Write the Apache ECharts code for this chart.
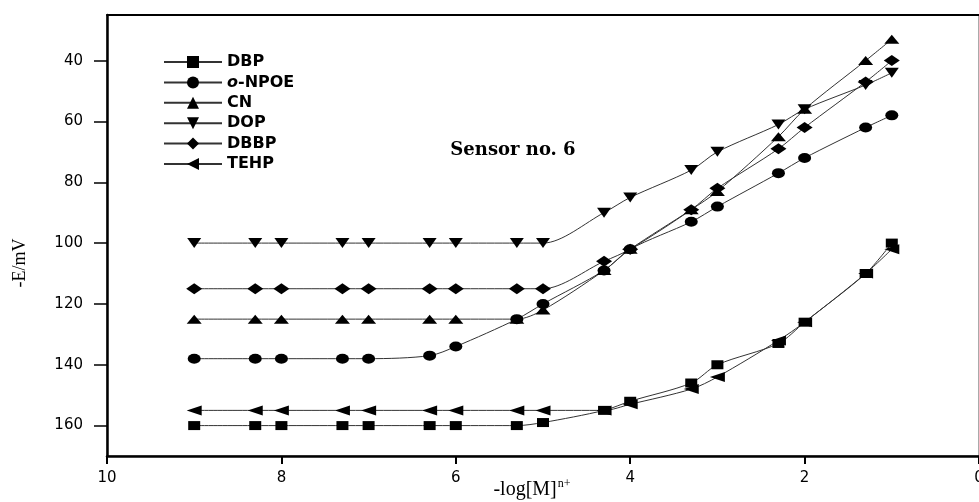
<!DOCTYPE html>
<html>
<head>
<meta charset="utf-8">
<script src="https://cdn.jsdelivr.net/npm/echarts@6/dist/echarts.min.js"></script>
<style>
    html, body { margin: 0; padding: 0; background: #fff; }
    #chart { width: 979px; height: 502px; }
</style>
</head>
<body>
<div id="chart"></div>
<script>
// -log[M]n+ 值（所有曲线共用）
var xVals = [9, 8.3, 8, 7.3, 7, 6.3, 6, 5.3, 5, 4.3, 4, 3.3, 3, 2.3, 2, 1.3, 1];

// 各增塑剂的 -E/mV
var dbp  = [160, 160, 160, 160, 160, 160, 160, 160, 159, 155, 152, 146, 140, 133, 126, 110, 100];
var npoe = [138, 138, 138, 138, 138, 137, 134, 125, 120, 109, 102, 93, 88, 77, 72, 62, 58];
var cn   = [125, 125, 125, 125, 125, 125, 125, 125, 122, 109, 102, 89, 83, 65, 56, 40, 33];
var dop  = [100, 100, 100, 100, 100, 100, 100, 100, 100, 90, 85, 76, 70, 61, 56, 48, 44];
var dbbp = [115, 115, 115, 115, 115, 115, 115, 115, 115, 106, 102, 89, 82, 69, 62, 47, 40];
var tehp = [155, 155, 155, 155, 155, 155, 155, 155, 155, 155, 153, 148, 144, 132, 126, 110, 102];

var names = ['DBP', 'o-NPOE', 'CN', 'DOP', 'DBBP', 'TEHP'];
var yTicks = [40, 60, 80, 100, 120, 140, 160];

function pairs(ys) {
    return xVals.map(function (x, i) { return [x, ys[i]]; });
}

function makeSeries(name, ys, symbol, size, rotate) {
    return {
        name: name,
        type: 'line',
        smooth: 0.3,
        data: pairs(ys),
        symbol: symbol,
        symbolSize: size,
        symbolRotate: rotate || 0,
        itemStyle: { color: '#000' },
        lineStyle: { color: '#333', width: 1 },
        emphasis: { disabled: true }
    };
}

var myChart = echarts.init(document.getElementById('chart'));

var option = {
    animation: false,
    backgroundColor: '#fff',
    // 外框（右边细线），左/下/上由坐标轴加粗
    grid: {
        left: 107, top: 15, right: 0, bottom: 46,
        outerBoundsMode: 'none',
        show: true, borderColor: '#555', borderWidth: 1
    },
    legend: {
        orient: 'vertical',
        left: 163,
        top: 54,
        padding: 0,
        itemWidth: 58,
        itemHeight: 15,
        itemGap: 4.4,
        data: names,
        textStyle: {
            fontFamily: 'DejaVu Sans',
            fontWeight: 'bold',
            fontSize: 16,
            color: '#000',
            rich: {
                i: { fontFamily: 'DejaVu Sans', fontWeight: 'bold', fontStyle: 'italic', fontSize: 16, color: '#000' }
            }
        },
        formatter: function (name) {
            if (name === 'o-NPOE') return '{i|o}-NPOE';
            return name;
        }
    },
    xAxis: [{
        type: 'value',
        min: 0,
        max: 10,
        interval: 2,
        inverse: true,
        splitLine: { show: false },
        axisLine: { onZero: false, lineStyle: { color: '#000', width: 2.5 } },
        axisTick: { length: 8, lineStyle: { color: '#000', width: 2 } },
        axisLabel: { color: '#000', fontFamily: 'DejaVu Sans', fontSize: 15, margin: 15 }
    }, {
        type: 'value',
        position: 'top',
        min: 0,
        max: 10,
        inverse: true,
        splitLine: { show: false },
        axisLine: { onZero: false, lineStyle: { color: '#000', width: 2 } },
        axisTick: { show: false },
        axisLabel: { show: false }
    }],
    yAxis: {
        type: 'value',
        position: 'left',
        min: 25,
        max: 170,
        inverse: true,
        splitLine: { show: false },
        axisLine: { onZero: false, lineStyle: { color: '#000', width: 2.5 } },
        axisTick: { length: 13, customValues: yTicks, lineStyle: { color: '#000', width: 1.5 } },
        axisLabel: { customValues: yTicks, color: '#000', fontFamily: 'DejaVu Sans', fontSize: 15, margin: 24 }
    },
    graphic: [{
        type: 'text',
        x: 513,
        y: 150,
        style: {
            text: 'Sensor no. 6',
            align: 'center', verticalAlign: 'middle',
            font: 'bold 18px "DejaVu Serif"',
            fill: '#000'
        }
    }, {
        type: 'text',
        x: 20,
        y: 263,
        rotation: Math.PI / 2,
        style: {
            text: '-E/mV',
            align: 'center', verticalAlign: 'middle',
            font: '18px "Liberation Serif"',
            fill: '#000'
        }
    }, {
        type: 'text',
        x: 532,
        y: 490,
        style: {
            text: '-log[M]{sup|n+}',
            align: 'center', verticalAlign: 'middle',
            font: '20px "Liberation Serif"',
            fill: '#000',
            rich: {
                sup: { font: '12px "Liberation Serif"', fill: '#000', verticalAlign: 'top', padding: [0, 0, 12, 1] }
            }
        }
    }],
    series: [
        makeSeries('DBP', dbp, 'rect', [12, 9]),
        makeSeries('o-NPOE', npoe, 'circle', [13, 10]),
        makeSeries('CN', cn, 'triangle', [15, 9]),
        makeSeries('DOP', dop, 'triangle', [14, 10], 180),
        makeSeries('DBBP', dbbp, 'diamond', [16, 11]),
        makeSeries('TEHP', tehp, 'triangle', [10, 15], 90)
    ]
};

myChart.setOption(option);
</script>
</body>
</html>
